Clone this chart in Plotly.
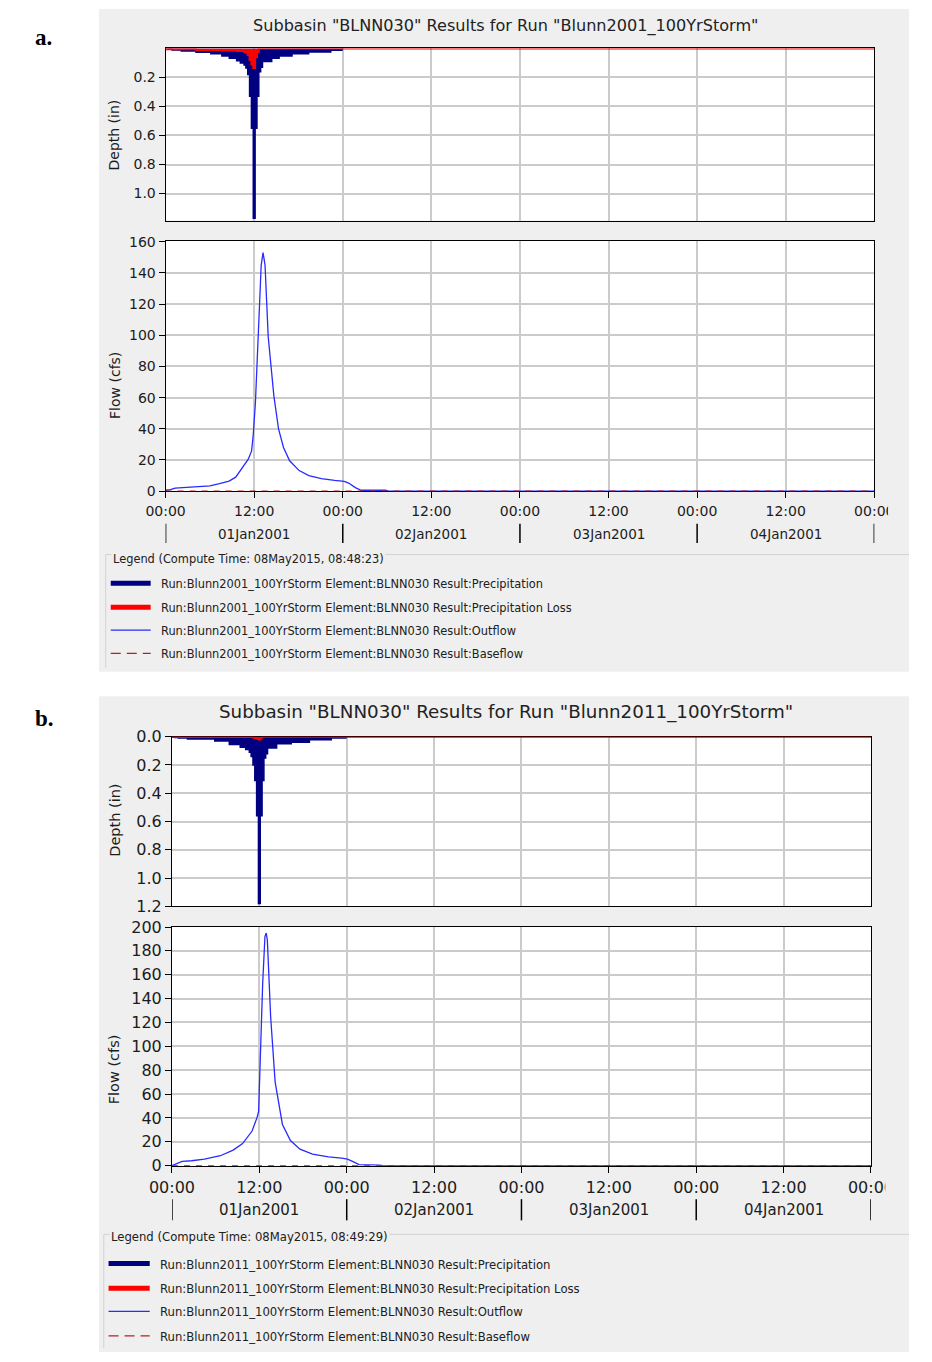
import plotly.graph_objects as go

W, H = 932, 1362

# ---------------- data ----------------
SIM_START_H = 0
SIM_END_H = 96
STEP_H = 0.25
N_STEPS = 96
storm_hours = [STEP_H * (i + 1) for i in range(N_STEPS)]   # 15-min interval time stamps, 00:15 .. 24:00

TICK_HOURS = [0, 12, 24, 36, 48, 60, 72, 84, 96]
TICK_TEXT = ["00:00", "12:00", "00:00", "12:00", "00:00", "12:00", "00:00", "12:00", "00:00"]
DAY_CENTER_HOURS = [12, 36, 60, 84]
DAY_LABELS = ["01Jan2001", "02Jan2001", "03Jan2001", "04Jan2001"]
DAY_BOUND_HOURS = [0, 24, 48, 72, 96]

DEPTH_TICKS_A = [0.2, 0.4, 0.6, 0.8, 1.0]
DEPTH_TICKS_B = [0.0, 0.2, 0.4, 0.6, 0.8, 1.0, 1.2]
FLOW_TICKS_A = [0, 20, 40, 60, 80, 100, 120, 140, 160]
FLOW_TICKS_B = [0, 20, 40, 60, 80, 100, 120, 140, 160, 180, 200]

# precipitation depth per 15-min interval (in) -- run Blunn2001
precip_a = [
    0.006, 0.006, 0.006, 0.010, 0.010, 0.010, 0.010, 0.010,
    0.018, 0.018, 0.018, 0.018, 0.018, 0.018, 0.018, 0.018,
    0.027, 0.027, 0.027, 0.027, 0.027, 0.027, 0.027, 0.027,
    0.037, 0.037, 0.037, 0.037, 0.037, 0.037, 0.052, 0.052,
    0.052, 0.052, 0.068, 0.068, 0.068, 0.068, 0.085, 0.085,
    0.100, 0.100, 0.115, 0.135, 0.180, 0.330, 0.550, 1.170,
    0.550, 0.330, 0.160, 0.130, 0.090, 0.090, 0.090, 0.090,
    0.090, 0.068, 0.068, 0.068, 0.068, 0.052, 0.052, 0.052,
    0.052, 0.052, 0.052, 0.052, 0.036, 0.036, 0.036, 0.036,
    0.036, 0.036, 0.036, 0.036, 0.036, 0.024, 0.024, 0.024,
    0.024, 0.024, 0.024, 0.024, 0.024, 0.024, 0.024, 0.024,
    0.024, 0.012, 0.012, 0.012, 0.012, 0.012, 0.012, 0.006,
]
loss_a = [
    0.005, 0.005, 0.005, 0.005, 0.005, 0.005, 0.005, 0.005,
    0.005, 0.005, 0.005, 0.005, 0.005, 0.005, 0.005, 0.005,
    0.010, 0.010, 0.010, 0.010, 0.010, 0.010, 0.010, 0.010,
    0.010, 0.010, 0.010, 0.010, 0.010, 0.010, 0.014, 0.014,
    0.014, 0.014, 0.014, 0.014, 0.014, 0.014, 0.017, 0.017,
    0.017, 0.017, 0.025, 0.030, 0.045, 0.080, 0.110, 0.135,
    0.060, 0.025, 0.0, 0.0, 0.0, 0.0, 0.0, 0.0,
    0.0, 0.0, 0.0, 0.0, 0.0, 0.0, 0.0, 0.0,
    0.0, 0.0, 0.0, 0.0, 0.0, 0.0, 0.0, 0.0,
    0.0, 0.0, 0.0, 0.0, 0.0, 0.0, 0.0, 0.0,
    0.0, 0.0, 0.0, 0.0, 0.0, 0.0, 0.0, 0.0,
    0.0, 0.0, 0.0, 0.0, 0.0, 0.0, 0.0, 0.0,
]
outflow_hours_a = [0.0, 0.65, 1.3, 3.0, 4.3, 6.0, 7.3, 8.6, 9.5, 10.1, 10.8, 11.2, 11.65,
                   11.87, 12.17, 12.5, 12.95, 13.2, 13.47, 13.9, 14.67, 15.3, 15.97, 16.8,
                   18.1, 19.4, 21.1, 22.9, 24.2, 24.8, 25.7, 26.5, 29.8, 30.2, 96.0]
outflow_cfs_a = [0.6, 1.0, 1.9, 2.5, 2.7, 3.4, 4.8, 6.5, 9.0, 13.2, 17.4, 20.5, 25.8,
                 36.0, 57.0, 99.0, 145.0, 153.0, 145.0, 99.0, 61.0, 40.0, 28.0, 19.5,
                 13.2, 10.0, 8.0, 6.9, 6.3, 5.2, 2.3, 0.6, 0.6, 0.0, 0.0]

# run Blunn2011
precip_b = [
    0.006, 0.006, 0.006, 0.010, 0.010, 0.010, 0.010, 0.010,
    0.017, 0.017, 0.017, 0.017, 0.017, 0.017, 0.017, 0.017,
    0.017, 0.017, 0.017, 0.017, 0.017, 0.017, 0.017, 0.030,
    0.030, 0.030, 0.030, 0.030, 0.030, 0.030, 0.030, 0.055,
    0.055, 0.055, 0.055, 0.055, 0.055, 0.075, 0.075, 0.075,
    0.090, 0.090, 0.110, 0.140, 0.200, 0.310, 0.560, 1.180,
    0.560, 0.310, 0.150, 0.120, 0.080, 0.080, 0.080, 0.080,
    0.080, 0.050, 0.050, 0.050, 0.050, 0.050, 0.050, 0.050,
    0.050, 0.040, 0.040, 0.040, 0.040, 0.040, 0.040, 0.040,
    0.040, 0.040, 0.040, 0.022, 0.022, 0.022, 0.022, 0.022,
    0.022, 0.022, 0.022, 0.022, 0.022, 0.022, 0.022, 0.010,
    0.010, 0.010, 0.010, 0.010, 0.010, 0.010, 0.010, 0.006,
]
loss_b = [
    0.003, 0.003, 0.003, 0.003, 0.003, 0.003, 0.003, 0.003,
    0.003, 0.003, 0.003, 0.003, 0.003, 0.003, 0.003, 0.003,
    0.003, 0.003, 0.003, 0.003, 0.003, 0.003, 0.003, 0.003,
    0.003, 0.003, 0.003, 0.003, 0.003, 0.003, 0.003, 0.003,
    0.003, 0.003, 0.003, 0.003, 0.003, 0.003, 0.003, 0.003,
    0.003, 0.003, 0.003, 0.003, 0.006, 0.010, 0.015, 0.020,
    0.008, 0.0, 0.0, 0.0, 0.0, 0.0, 0.0, 0.0,
    0.0, 0.0, 0.0, 0.0, 0.0, 0.0, 0.0, 0.0,
    0.0, 0.0, 0.0, 0.0, 0.0, 0.0, 0.0, 0.0,
    0.0, 0.0, 0.0, 0.0, 0.0, 0.0, 0.0, 0.0,
    0.0, 0.0, 0.0, 0.0, 0.0, 0.0, 0.0, 0.0,
    0.0, 0.0, 0.0, 0.0, 0.0, 0.0, 0.0, 0.0,
]
outflow_hours_b = [0.0, 0.52, 1.4, 2.7, 4.46, 6.65, 8.4, 9.7, 11.0, 11.67, 11.9, 12.1,
                   12.46, 12.77, 12.94, 13.1, 13.55, 14.17, 15.17, 16.27, 17.58, 19.3,
                   21.5, 23.3, 24.1, 24.8, 25.7, 28.5, 29.0, 96.0]
outflow_cfs_b = [0.0, 1.4, 3.6, 4.1, 5.5, 8.3, 13.0, 18.5, 29.0, 40.0, 45.5, 84.0,
                 153.0, 192.0, 195.0, 189.0, 125.0, 70.0, 34.5, 21.0, 13.8, 9.7,
                 7.4, 6.3, 5.5, 3.6, 0.8, 0.5, 0.0, 0.0]

baseflow_hours = [0.0, 96.0]
baseflow_cfs = [0.0, 0.0]

TITLE_A = 'Subbasin "BLNN030" Results for Run "Blunn2001_100YrStorm"'
TITLE_B = 'Subbasin "BLNN030" Results for Run "Blunn2011_100YrStorm"'
LEGEND_HEAD_A = "Legend (Compute Time: 08May2015, 08:48:23)"
LEGEND_HEAD_B = "Legend (Compute Time: 08May2015, 08:49:29)"
LEGEND_A = ["Run:Blunn2001_100YrStorm Element:BLNN030 Result:Precipitation",
            "Run:Blunn2001_100YrStorm Element:BLNN030 Result:Precipitation Loss",
            "Run:Blunn2001_100YrStorm Element:BLNN030 Result:Outflow",
            "Run:Blunn2001_100YrStorm Element:BLNN030 Result:Baseflow"]
LEGEND_B = ["Run:Blunn2011_100YrStorm Element:BLNN030 Result:Precipitation",
            "Run:Blunn2011_100YrStorm Element:BLNN030 Result:Precipitation Loss",
            "Run:Blunn2011_100YrStorm Element:BLNN030 Result:Outflow",
            "Run:Blunn2011_100YrStorm Element:BLNN030 Result:Baseflow"]

# ---------------- style ----------------
NAVY = "#000080"
RED = "#ff0000"
BLUE = "#2a2aff"
BROWN = "#b22222"
PANEL_BG = "#efefef"
GRID = "#cbcbcb"
INK = "#1c1c1c"
FONT = "DejaVu Sans"


def X(px):
    return px / W


def Y(py):
    return 1 - py / H


fig = go.Figure()
shapes = []
annotations = []
layout_axes = {}

panels = [
    dict(tag="a.", letter_y=29, panel_top=0, panel_bottom=672,
         left=150, right=895.5, d_top=40, d_bot=214.5, f_top=235, f_bot=489,
         d_range=[1.186, 0], d_ticks=DEPTH_TICKS_A, f_range=[0, 160.6], f_ticks=FLOW_TICKS_A,
         precip=precip_a, loss=loss_a, of_h=outflow_hours_a, of_q=outflow_cfs_a,
         title=TITLE_A, title_y=17, title_size=16.1, tick_size=14, day_size=13.5,
         tick_lab_y=509, day_y=532.5, sep_top=522, sep_bot=541.5, cut_x=910,
         ytitle_x=96, depth_title_y=128, flow_title_y=382, ytitle_size=14,
         head=LEGEND_HEAD_A, items=LEGEND_A, head_y=557.3, border_y=553.3, border_x=87,
         item_y=[583.3, 607.6, 630.9, 654.4], sw_x=[92.3, 134.3], text_x=143.3, leg_size=11.4,
         ax=["x", "y", "x2", "y2"]),
    dict(tag="b.", letter_y=720, panel_top=697, panel_bottom=1362,
         left=156.7, right=892, d_top=738, d_bot=910, f_top=931, f_bot=1173,
         d_range=[1.2, 0], d_ticks=DEPTH_TICKS_B, f_range=[0, 200], f_ticks=FLOW_TICKS_B,
         precip=precip_b, loss=loss_b, of_h=outflow_hours_b, of_q=outflow_cfs_b,
         title=TITLE_B, title_y=713, title_size=18.3, tick_size=16, day_size=15,
         tick_lab_y=1195, day_y=1218.3, sep_top=1207, sep_bot=1228.5, cut_x=907,
         ytitle_x=96, depth_title_y=823, flow_title_y=1075, ytitle_size=14.5,
         head=LEGEND_HEAD_B, items=LEGEND_B, head_y=1245.5, border_y=1242.7, border_x=85,
         item_y=[1273.3, 1298.3, 1321.7, 1346.7], sw_x=[90, 133.3], text_x=141.7, leg_size=11.65,
         ax=["x3", "y3", "x4", "y4"]),
]


def axname(ref):
    return ref[0] + "axis" + ref[1:]


for p in panels:
    xd, yd, xf, yf = p["ax"]

    # panel background + white plot areas
    shapes.append(dict(type="rect", xref="paper", yref="paper", layer="below",
                       x0=X(80), x1=1, y0=Y(p["panel_bottom"]), y1=Y(p["panel_top"]),
                       fillcolor=PANEL_BG, line=dict(width=0)))
    for top, bot in [(p["d_top"], p["d_bot"]), (p["f_top"], p["f_bot"])]:
        shapes.append(dict(type="rect", xref="paper", yref="paper", layer="below",
                           x0=X(p["left"]), x1=X(p["right"]), y0=Y(bot), y1=Y(top),
                           fillcolor="white", line=dict(width=0)))

    # traces
    fig.add_trace(go.Scatter(x=storm_hours, y=p["precip"], mode="lines",
                             line=dict(color=NAVY, width=1.5, shape="hvh"),
                             fill="tozeroy", fillcolor=NAVY, xaxis=xd, yaxis=yd,
                             name="Precipitation", showlegend=False, hoverinfo="skip"))
    fig.add_trace(go.Scatter(x=[SIM_START_H] + storm_hours + [SIM_END_H],
                             y=[0.0] + p["loss"] + [0.0], mode="lines",
                             line=dict(color=RED, width=2, shape="hvh"),
                             fill="tozeroy", fillcolor=RED, cliponaxis=False,
                             xaxis=xd, yaxis=yd, name="Precipitation Loss",
                             showlegend=False, hoverinfo="skip"))
    fig.add_trace(go.Scatter(x=p["of_h"], y=p["of_q"], mode="lines",
                             line=dict(color=BLUE, width=1.3), cliponaxis=False,
                             xaxis=xf, yaxis=yf, name="Outflow", showlegend=False,
                             hoverinfo="skip"))
    fig.add_trace(go.Scatter(x=baseflow_hours, y=baseflow_cfs, mode="lines",
                             line=dict(color=BROWN, width=1.5, dash="6px,6px"),
                             cliponaxis=False, xaxis=xf, yaxis=yf, name="Baseflow",
                             showlegend=False, hoverinfo="skip"))

    common_x = dict(domain=[X(p["left"]), X(p["right"])], range=[SIM_START_H, SIM_END_H],
                    tickmode="array", tickvals=TICK_HOURS, ticktext=TICK_TEXT,
                    showgrid=True, gridcolor=GRID, gridwidth=1.5, zeroline=False,
                    showline=True, linecolor="black", linewidth=1, mirror=True,
                    layer="below traces", fixedrange=True,
                    tickfont=dict(family=FONT, size=p["tick_size"], color=INK))
    layout_axes[axname(xd)] = dict(common_x, anchor=yd, showticklabels=False, ticks="")
    layout_axes[axname(xf)] = dict(common_x, anchor=yf, showticklabels=True, ticks="outside",
                                   ticklen=6, tickwidth=1, tickcolor="black",
                                   ticklabelstandoff=1)
    common_y = dict(tickmode="array", showgrid=True, gridcolor=GRID, gridwidth=1.5,
                    zeroline=False, showline=True, linecolor="black", linewidth=1,
                    mirror=True, layer="below traces", fixedrange=True,
                    ticks="outside", ticklen=6, tickwidth=1, tickcolor="black",
                    tickfont=dict(family=FONT, size=p["tick_size"], color=INK))
    layout_axes[axname(yd)] = dict(common_y, anchor=xd, domain=[Y(p["d_bot"]), Y(p["d_top"])],
                                   range=p["d_range"], tickvals=p["d_ticks"], tickformat=".1f")
    layout_axes[axname(yf)] = dict(common_y, anchor=xf, domain=[Y(p["f_bot"]), Y(p["f_top"])],
                                   range=p["f_range"], tickvals=p["f_ticks"])

    # day labels + separators under the time axis
    for hc, lab in zip(DAY_CENTER_HOURS, DAY_LABELS):
        annotations.append(dict(x=hc, y=Y(p["day_y"]), xref=xf, yref="paper", text=lab,
                                showarrow=False, xanchor="center", yanchor="middle",
                                font=dict(family=FONT, size=p["day_size"], color=INK)))
    for hb in DAY_BOUND_HOURS:
        shapes.append(dict(type="line", xref=xf, yref="paper", x0=hb, x1=hb,
                           y0=Y(p["sep_bot"]), y1=Y(p["sep_top"]),
                           line=dict(color="black", width=1.5)))
    # clip of the last tick label at the chart component edge
    shapes.append(dict(type="rect", xref="paper", yref="paper", layer="above",
                       x0=X(p["cut_x"]), x1=1, y0=Y(p["tick_lab_y"] + 12), y1=Y(p["tick_lab_y"] - 12),
                       fillcolor=PANEL_BG, line=dict(width=0)))

    # titles
    annotations.append(dict(x=X(508), y=Y(p["title_y"]), xref="paper", yref="paper",
                            text=p["title"], showarrow=False, xanchor="center", yanchor="middle",
                            font=dict(family=FONT, size=p["title_size"], color="#222222")))
    annotations.append(dict(x=X(10), y=Y(p["letter_y"]), xref="paper", yref="paper",
                            text="<b>" + p["tag"] + "</b>", showarrow=False, xanchor="left",
                            yanchor="middle",
                            font=dict(family="Liberation Serif", size=23, color="black")))
    for txt, yy in [("Depth (in)", p["depth_title_y"]), ("Flow (cfs)", p["flow_title_y"])]:
        annotations.append(dict(x=X(p["ytitle_x"]), y=Y(yy), xref="paper", yref="paper",
                                text=txt, textangle=-90, showarrow=False,
                                xanchor="center", yanchor="middle",
                                font=dict(family=FONT, size=p["ytitle_size"], color=INK)))

    # legend block
    shapes.append(dict(type="line", xref="paper", yref="paper", x0=X(p["border_x"]), x1=1,
                       y0=Y(p["border_y"]), y1=Y(p["border_y"]),
                       line=dict(color="#d2d2d2", width=1)))
    shapes.append(dict(type="line", xref="paper", yref="paper", x0=X(p["border_x"]),
                       x1=X(p["border_x"]), y0=Y(p["panel_bottom"] - 4), y1=Y(p["border_y"]),
                       line=dict(color="#d2d2d2", width=1)))
    annotations.append(dict(x=X(p["sw_x"][0]), y=Y(p["head_y"]), xref="paper", yref="paper",
                            text=p["head"], showarrow=False, xanchor="left", yanchor="middle",
                            bgcolor=PANEL_BG, borderpad=1,
                            font=dict(family=FONT, size=p["leg_size"], color="#202020")))
    swatches = [dict(color=NAVY, width=5), dict(color=RED, width=5),
                dict(color=BLUE, width=1.3), dict(color=BROWN, width=1.3, dash="10px,6px")]
    for sw, txt, yy in zip(swatches, p["items"], p["item_y"]):
        shapes.append(dict(type="line", xref="paper", yref="paper",
                           x0=X(p["sw_x"][0]), x1=X(p["sw_x"][1]), y0=Y(yy - 1), y1=Y(yy - 1),
                           line=sw))
        annotations.append(dict(x=X(p["text_x"]), y=Y(yy), xref="paper", yref="paper",
                                text=txt, showarrow=False, xanchor="left", yanchor="middle",
                                font=dict(family=FONT, size=p["leg_size"], color="#202020")))

fig.update_layout(
    width=W, height=H, margin=dict(l=0, r=0, t=0, b=0), autosize=False,
    paper_bgcolor="white", plot_bgcolor="white",
    showlegend=False, shapes=shapes, annotations=annotations,
    font=dict(family=FONT, color=INK),
    **layout_axes,
)

PAGE_JS = ("document.body.style.margin='0px';document.body.style.padding='0px';"
           "document.body.style.overflow='hidden';"
           "document.documentElement.style.overflow='hidden';")
fig.write_html("out.html", config={"displayModeBar": False}, post_script=PAGE_JS)
